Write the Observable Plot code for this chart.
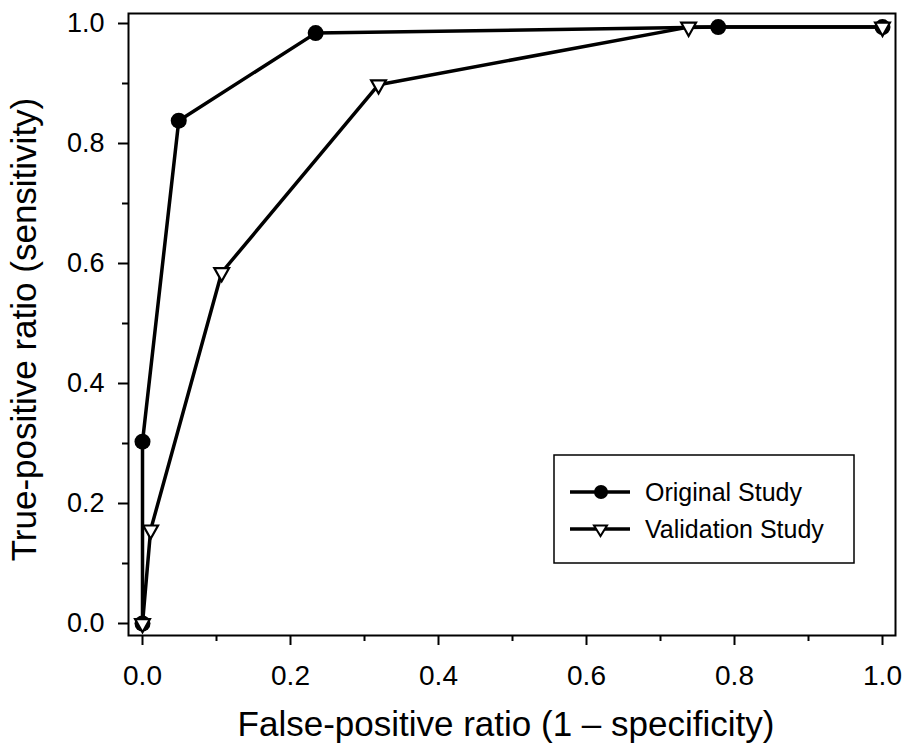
<!DOCTYPE html>
<html>
<head>
<meta charset="utf-8">
<script src="https://cdn.jsdelivr.net/npm/d3@7"></script>
<script src="https://cdn.jsdelivr.net/npm/@observablehq/plot@0.6"></script>
<style>
  html, body { margin: 0; padding: 0; background: #fff; }
  #wrap { position: relative; width: 902px; height: 744px; font-family: "Liberation Sans", Arial, Helvetica, sans-serif; }
  #legend { position: absolute; left: 553px; top: 454px; }
</style>
</head>
<body>
<div id="wrap"></div>
<script>
// ---- Data ----
const origFPR = [0, 0, 0.049, 0.234, 0.778, 1.0];
const origTPR = [0, 0.303, 0.838, 0.984, 0.994, 0.994];
const valFPR  = [0, 0.011, 0.107, 0.319, 0.738, 1.0];
const valTPR  = [0, 0.156, 0.585, 0.898, 0.994, 0.994];
const seriesNames = ["Original Study", "Validation Study"];
const majorTicks = [0, 0.2, 0.4, 0.6, 0.8, 1.0];
const minorTicks = [0.1, 0.3, 0.5, 0.7, 0.9];
const xTitle = "False-positive ratio (1 – specificity)";
const yTitle = "True-positive ratio (sensitivity)";

const orig = origFPR.map((x, i) => ({x, y: origTPR[i]}));
const valid = valFPR.map((x, i) => ({x, y: valTPR[i]}));
const fmt = d3.format(".1f");
const FONT = '"Liberation Sans", Arial, Helvetica, sans-serif';

// down-pointing triangle symbol
const triDown = {
  draw(ctx, size) {
    const r = Math.sqrt(size / Math.PI);
    const w = r * 0.95, h = r * 1.7;
    ctx.moveTo(-w, -h / 3);
    ctx.lineTo(w, -h / 3);
    ctx.lineTo(0, 2 * h / 3);
    ctx.closePath();
  }
};

const chart = Plot.plot({
  width: 902,
  height: 744,
  marginLeft: 128,
  marginRight: 7,
  marginTop: 13,
  marginBottom: 109,
  style: {fontFamily: FONT, color: "#000", background: "#fff"},
  x: {domain: [0, 1], range: [142, 882]},
  y: {domain: [0, 1], range: [623, 23]},
  marks: [
    Plot.frame({stroke: "#000", strokeWidth: 2}),
    Plot.axisX(majorTicks, {anchor: "bottom", tickSize: 10, strokeWidth: 2, text: null, label: null}),
    Plot.axisX(minorTicks, {anchor: "bottom", tickSize: 6, strokeWidth: 2, text: null, label: null}),
    Plot.axisY(majorTicks, {anchor: "left", tickSize: 10, strokeWidth: 2, text: null, label: null}),
    Plot.axisY(minorTicks, {anchor: "left", tickSize: 6, strokeWidth: 2, text: null, label: null}),
    // tick labels
    Plot.text(majorTicks, {x: d => d, frameAnchor: "bottom", dy: 41, text: d => fmt(d), fontSize: 28, lineAnchor: "middle", textAnchor: "middle", fill: "#000"}),
    Plot.text(majorTicks, {y: d => d, frameAnchor: "left", dx: -24, text: d => fmt(d), fontSize: 27, lineAnchor: "middle", textAnchor: "end", fill: "#000"}),
    // axis titles
    Plot.text([xTitle], {frameAnchor: "bottom", dx: -6, dy: 89, fontSize: 35, lineAnchor: "middle", textAnchor: "middle", fill: "#000"}),
    Plot.text([yTitle], {frameAnchor: "left", dx: -104, dy: 5, rotate: -90, fontSize: 35, lineAnchor: "middle", textAnchor: "middle", fill: "#000"}),
    // series
    Plot.line(orig, {x: "x", y: "y", stroke: "#000", strokeWidth: 3.5}),
    Plot.line(valid, {x: "x", y: "y", stroke: "#000", strokeWidth: 3.5}),
    Plot.dot(orig, {x: "x", y: "y", r: 8, fill: "#000", stroke: "none"}),
    Plot.dot(valid, {x: "x", y: "y", r: 7.8, symbol: triDown, fill: "#fff", stroke: "#000", strokeWidth: 2.2})
  ]
});
document.getElementById("wrap").appendChild(chart);

// ---- Legend (inside plot, top-left corner at 553,454) ----
const lg = d3.select("#wrap").append("svg")
  .attr("id", "legend").attr("width", 304).attr("height", 112);
lg.append("rect").attr("x", 1).attr("y", 1).attr("width", 300).attr("height", 108)
  .attr("fill", "#fff").attr("stroke", "#000").attr("stroke-width", 1.5);
const rows = lg.selectAll("g.row").data(seriesNames).join("g")
  .attr("transform", (d, i) => `translate(0, ${i === 0 ? 38 : 75})`);
rows.append("line").attr("x1", 17).attr("x2", 77).attr("y1", 0).attr("y2", 0)
  .attr("stroke", "#000").attr("stroke-width", 3.5);
rows.filter((d, i) => i === 0).append("circle").attr("cx", 48).attr("cy", 0).attr("r", 7).attr("fill", "#000");
rows.filter((d, i) => i === 1).append("path")
  .attr("d", "M41,-3.5 L54,-3.5 L47.5,7 Z").attr("fill", "#fff").attr("stroke", "#000").attr("stroke-width", 2);
rows.append("text").attr("x", 92).attr("y", 9).attr("font-size", 25)
  .attr("font-family", FONT).attr("fill", "#000")
  .text(d => d);
</script>
</body>
</html>
